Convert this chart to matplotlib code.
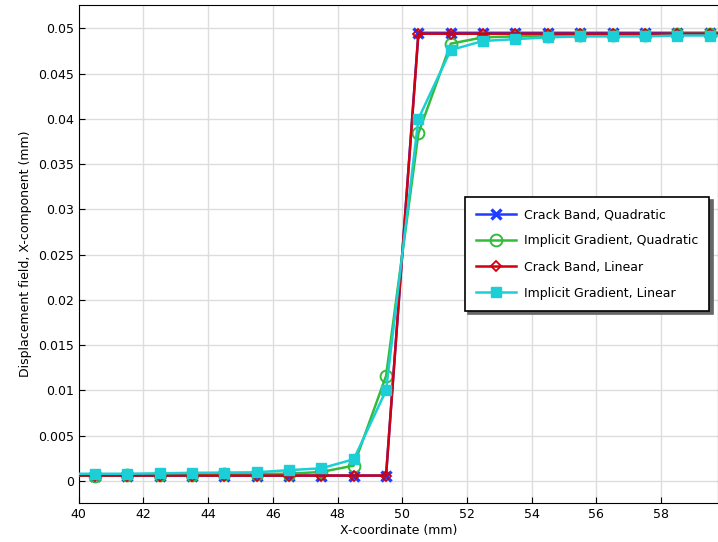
import matplotlib
matplotlib.use("Agg")
import matplotlib.pyplot as plt
import numpy as np

# data (x at element centres, plus the domain ends)
x = [40.0, 40.5, 41.5, 42.5, 43.5, 44.5, 45.5, 46.5, 47.5, 48.5, 49.5,
     50.5, 51.5, 52.5, 53.5, 54.5, 55.5, 56.5, 57.5, 58.5, 59.5, 60.0]

cb_quad = [0.0006, 0.0006, 0.0006, 0.0006, 0.0006, 0.0006, 0.0006, 0.0006, 0.0006, 0.0006, 0.0006,
           0.0495, 0.0495, 0.0495, 0.0495, 0.0495, 0.0495, 0.0495, 0.0495, 0.0495, 0.0495, 0.0495]
ig_quad = [0.0006, 0.0006, 0.00065, 0.0007, 0.0007, 0.00075, 0.00078, 0.0008, 0.001, 0.0017, 0.0116,
           0.0384, 0.0483, 0.0490, 0.0491, 0.0492, 0.0493, 0.0493, 0.0493, 0.0494, 0.0494, 0.0494]
cb_lin = [0.0006, 0.0006, 0.0006, 0.0006, 0.0006, 0.0006, 0.0006, 0.0006, 0.0006, 0.0006, 0.0006,
          0.0494, 0.0494, 0.0494, 0.0494, 0.0494, 0.0494, 0.0494, 0.0494, 0.0494, 0.0494, 0.0494]
ig_lin = [0.0008, 0.0008, 0.0008, 0.00085, 0.0009, 0.00093, 0.00096, 0.0012, 0.0014, 0.0024, 0.0100,
          0.0400, 0.0476, 0.0486, 0.0488, 0.0490, 0.0491, 0.0491, 0.0491, 0.0492, 0.0492, 0.0492]

labels = ["Crack Band, Quadratic", "Implicit Gradient, Quadratic",
          "Crack Band, Linear", "Implicit Gradient, Linear"]

xticks = [40, 42, 44, 46, 48, 50, 52, 54, 56, 58]
yticks = [0, 0.005, 0.01, 0.015, 0.02, 0.025, 0.03, 0.035, 0.04, 0.045, 0.05]
yticklabels = ["0", "0.005", "0.01", "0.015", "0.02", "0.025", "0.03", "0.035", "0.04", "0.045", "0.05"]

fig = plt.figure(figsize=(7.18, 5.42), dpi=100)
ax = fig.add_axes([78.7/718, (542-503)/542, (718-78.7)/718, (503-5)/542])

me = slice(1, -1)
ax.plot(x, cb_quad, color="#1f3cff", lw=1.8, marker="x", ms=7, mew=2.4,
        markevery=me, label=labels[0], zorder=3)
ax.plot(x, ig_quad, color="#33bb3a", lw=1.8, marker="o", ms=8.5, mfc="none", mew=1.4,
        markevery=me, label=labels[1], zorder=4)
ax.plot(x, cb_lin, color="#d0000f", lw=1.8, marker="D", ms=5, mfc="none", mew=1.3,
        markevery=me, label=labels[2], zorder=5)
ax.plot(x, ig_lin, color="#1ccfd6", lw=1.8, marker="s", ms=6.5,
        markevery=me, label=labels[3], zorder=6)

ax.set_xlim(40, 59.76)
ax.set_ylim(-0.00243, 0.05257)
ax.set_xticks(xticks)
ax.set_yticks(yticks)
ax.set_yticklabels(yticklabels)
ax.tick_params(labelsize=9, direction="in", length=4)
ax.grid(True, color="#dddddd", lw=1)
ax.set_axisbelow(True)
ax.set_xlabel("X-coordinate (mm)", fontsize=9, labelpad=2)
ax.set_ylabel("Displacement field, X-component (mm)", fontsize=9, labelpad=4)

leg = ax.legend(loc="upper left", bbox_to_anchor=((465-78.7)/639.3, (503-197)/498),
                borderaxespad=0, fontsize=9,
                frameon=True, fancybox=False,
                shadow={"color": "#666666", "alpha": 1, "ox": 2.5, "oy": -2.5},
                borderpad=0.9, labelspacing=1.05, handlelength=3.2, handletextpad=0.6,
                edgecolor="black")
leg.get_frame().set_linewidth(1.2)

fig.savefig("out.png", dpi=100)
